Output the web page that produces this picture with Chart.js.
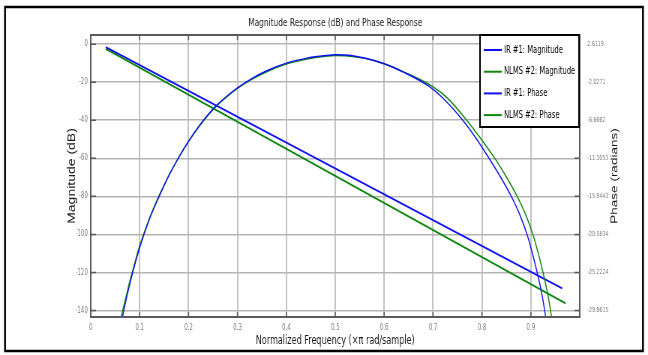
<!DOCTYPE html>
<html>
<head>
<meta charset="utf-8">
<script src="https://cdn.jsdelivr.net/npm/chart.js@4.4.1/dist/chart.umd.min.js"></script>
<style>
  html, body { margin: 0; padding: 0; background: #fff; }
  #wrap { width: 648px; height: 355px; overflow: hidden; }
  /* the figure is squeezed horizontally like the original export */
  #c { transform: scaleX(0.75); transform-origin: 0 0; }
</style>
</head>
<body>
<div id="wrap"><canvas id="c" width="864" height="355"></canvas></div>
<script>
// axis ticks
const freqTicks = [0, 0.1, 0.2, 0.3, 0.4, 0.5, 0.6, 0.7, 0.8, 0.9];
const magTicks = [0, -20, -40, -60, -80, -100, -120, -140];
const phaseTickLabels = ['2.6119', '-2.0271', '-6.6662', '-11.3053', '-15.9443', '-20.5834', '-25.2224', '-29.8615'];

// IR #1 magnitude (dB)
const irMagFreq = [0.064, 0.07, 0.08, 0.09, 0.10, 0.12, 0.14, 0.16, 0.18, 0.20, 0.22, 0.24, 0.26, 0.28, 0.30, 0.33, 0.36, 0.40, 0.44, 0.48, 0.50, 0.52, 0.56, 0.60, 0.64, 0.692, 0.72, 0.76, 0.79, 0.814, 0.838, 0.86, 0.878, 0.894, 0.911, 0.923, 0.931, 0.934];
const irMagDb = [-144.5, -137, -126, -116, -107, -92, -80, -69, -59.5, -51, -43.5, -37, -31.5, -27, -23, -18, -14, -10, -7.5, -6, -5.6, -5.7, -7.3, -10.3, -14.8, -22.2, -28.3, -39.7, -50.2, -59.8, -69.8, -80, -90, -101.5, -118, -132, -144.5, -150];

// NLMS #2 magnitude (dB)
const nlmsMagFreq = [0.061, 0.07, 0.08, 0.09, 0.10, 0.12, 0.14, 0.16, 0.18, 0.20, 0.22, 0.24, 0.26, 0.28, 0.30, 0.33, 0.36, 0.40, 0.44, 0.48, 0.50, 0.52, 0.56, 0.60, 0.64, 0.6986, 0.73, 0.768, 0.80, 0.828, 0.85, 0.872, 0.89, 0.906, 0.923, 0.935, 0.943, 0.946];
const nlmsMagDb = [-144.5, -135, -124.5, -115, -106, -91.5, -79.5, -68.8, -59.5, -51.2, -43.8, -37.3, -31.8, -27.3, -23.3, -18.4, -14.5, -10.5, -8, -6.4, -6, -6.1, -7.5, -10.3, -14.6, -22.2, -28.5, -39.7, -50.5, -60.7, -69.8, -80, -90, -101.5, -118, -132, -144.5, -150];

// phase (radians)
const irPhaseFreq = [0.0306, 0.964];
const irPhaseRad = [2.24, -27.17];
const nlmsPhaseFreq = [0.0306, 0.971];
const nlmsPhaseRad = [2.03, -28.99];

const magMin = -143.4, magMax = 4.8;

// phase axis is tied to the magnitude axis through the tick labels
const phaseTicks = phaseTickLabels.map(Number);
const k = (phaseTicks[0] - phaseTicks[phaseTicks.length - 1]) / (magTicks[0] - magTicks[magTicks.length - 1]);
const phaseMin = phaseTicks[0] + (magMin - magTicks[0]) * k;
const phaseMax = phaseTicks[0] + (magMax - magTicks[0]) * k;

const BLUE = '#1010f5';
const GREEN = '#0c860c';
const FONT = "'Liberation Sans', Arial, sans-serif";
const NARROW = "'Liberation Sans Narrow', 'DejaVu Sans Condensed', 'Liberation Sans', sans-serif";

function pts(xs, ys) {
    return xs.map((x, i) => ({x: x, y: ys[i]}));
}

const decor = {
    id: 'decor',
    beforeDraw(chart) {
        const ctx = chart.ctx;
        ctx.save();
        ctx.fillStyle = '#fff';
        ctx.fillRect(0, 0, chart.width, chart.height);
        ctx.restore();
    },
    afterDraw(chart) {
        const {ctx, chartArea: a, scales} = chart;
        ctx.save();

        // axes box + inward ticks
        ctx.strokeStyle = '#5a5a5a';
        ctx.lineWidth = 2;
        ctx.strokeRect(a.left, a.top, a.right - a.left, a.bottom - a.top);
        ctx.lineWidth = 1.5;
        ctx.beginPath();
        freqTicks.forEach(v => {
            const x = scales.x.getPixelForValue(v);
            ctx.moveTo(x, a.bottom); ctx.lineTo(x, a.bottom - 5);
            ctx.moveTo(x, a.top); ctx.lineTo(x, a.top + 5);
        });
        magTicks.forEach(v => {
            const y = scales.y.getPixelForValue(v);
            ctx.moveTo(a.left, y); ctx.lineTo(a.left + 7, y);
        });
        phaseTicks.forEach(v => {
            const y = scales.y2.getPixelForValue(v);
            ctx.moveTo(a.right, y); ctx.lineTo(a.right - 7, y);
        });
        ctx.stroke();

        // title
        ctx.fillStyle = '#222';
        ctx.font = '11px ' + NARROW;
        ctx.textAlign = 'center';
        ctx.textBaseline = 'middle';
        ctx.fillText('Magnitude Response (dB) and Phase Response', (a.left + a.right) / 2, 23);

        // right axis title (reads bottom to top)
        ctx.save();
        ctx.translate(819, (a.top + a.bottom) / 2);
        ctx.rotate(-Math.PI / 2);
        ctx.font = '13.5px ' + FONT;
        ctx.fillStyle = '#1a1a1a';
        ctx.fillText('Phase (radians)', 0, 0);
        ctx.restore();

        // legend box in the top right corner
        const bx = a.right - 133, by = a.top, bw = 132, bh = 92;
        ctx.fillStyle = '#fff';
        ctx.fillRect(bx, by, bw, bh);
        ctx.strokeStyle = '#000';
        ctx.lineWidth = 2;
        ctx.strokeRect(bx, by, bw, bh);
        ctx.font = '10px ' + NARROW;
        ctx.textAlign = 'left';
        chart.data.datasets.forEach((ds, i) => {
            const y = by + 15 + i * 21.7;
            ctx.strokeStyle = ds.borderColor;
            ctx.lineWidth = 2;
            ctx.beginPath();
            ctx.moveTo(bx + 5, y);
            ctx.lineTo(bx + 29, y);
            ctx.stroke();
            ctx.fillStyle = '#000';
            ctx.fillText(ds.label, bx + 32, y);
        });

        // outer frame
        ctx.strokeStyle = '#000';
        ctx.lineWidth = 2.5;
        ctx.strokeRect(6.7, 7, 850.6, 344);
        ctx.restore();
    }
};

new Chart(document.getElementById('c'), {
    type: 'line',
    data: {
        datasets: [
            {label: 'IR #1: Magnitude', data: pts(irMagFreq, irMagDb), yAxisID: 'y', borderColor: BLUE, borderWidth: 1.4, cubicInterpolationMode: 'monotone'},
            {label: 'NLMS #2: Magnitude', data: pts(nlmsMagFreq, nlmsMagDb), yAxisID: 'y', borderColor: GREEN, borderWidth: 1.4, cubicInterpolationMode: 'monotone'},
            {label: 'IR #1: Phase', data: pts(irPhaseFreq, irPhaseRad), yAxisID: 'y2', borderColor: BLUE, borderWidth: 1.8},
            {label: 'NLMS #2: Phase', data: pts(nlmsPhaseFreq, nlmsPhaseRad), yAxisID: 'y2', borderColor: GREEN, borderWidth: 1.8}
        ]
    },
    options: {
        responsive: false,
        animation: false,
        devicePixelRatio: 1,
        pointStyle: false,
        layout: {padding: {top: 35}},
        plugins: {
            legend: {display: false},
            title: {display: false},
            tooltip: {enabled: false}
        },
        scales: {
            x: {
                type: 'linear',
                min: 0,
                max: 1,
                afterBuildTicks: s => { s.ticks = freqTicks.map(v => ({value: v})); },
                afterFit: s => { s.height = 38; },
                grid: {color: '#c4c4c4', lineWidth: 2, drawTicks: false},
                border: {display: false},
                ticks: {
                    padding: 6,
                    color: '#7a7a7a',
                    font: {family: NARROW, size: 8},
                    callback: v => String(v)
                },
                title: {
                    display: true,
                    text: 'Normalized Frequency (×π rad/sample)',
                    color: '#1a1a1a',
                    font: {family: NARROW, size: 12},
                    padding: {top: 0, bottom: 7}
                }
            },
            y: {
                type: 'linear',
                position: 'left',
                min: magMin,
                max: magMax,
                afterBuildTicks: s => { s.ticks = magTicks.map(v => ({value: v})); },
                afterFit: s => { s.width = 121; },
                grid: {color: '#b4b4b4', lineWidth: 1.6, drawTicks: false},
                border: {display: false},
                ticks: {
                    padding: 4,
                    color: '#7a7a7a',
                    font: {family: NARROW, size: 8},
                    callback: v => String(v)
                },
                title: {
                    display: true,
                    text: 'Magnitude (dB)',
                    color: '#1a1a1a',
                    font: {family: FONT, size: 14},
                    padding: {top: 88, bottom: 0}
                }
            },
            y2: {
                type: 'linear',
                position: 'right',
                min: phaseMin,
                max: phaseMax,
                afterBuildTicks: s => { s.ticks = phaseTicks.map(v => ({value: v})); },
                afterFit: s => { s.width = 91; },
                grid: {display: false},
                border: {display: false},
                ticks: {
                    padding: 2,
                    color: '#7a7a7a',
                    font: {family: NARROW, size: 7},
                    callback: (v, i) => phaseTickLabels[i]
                }
            }
        }
    },
    plugins: [decor]
});
</script>
</body>
</html>
